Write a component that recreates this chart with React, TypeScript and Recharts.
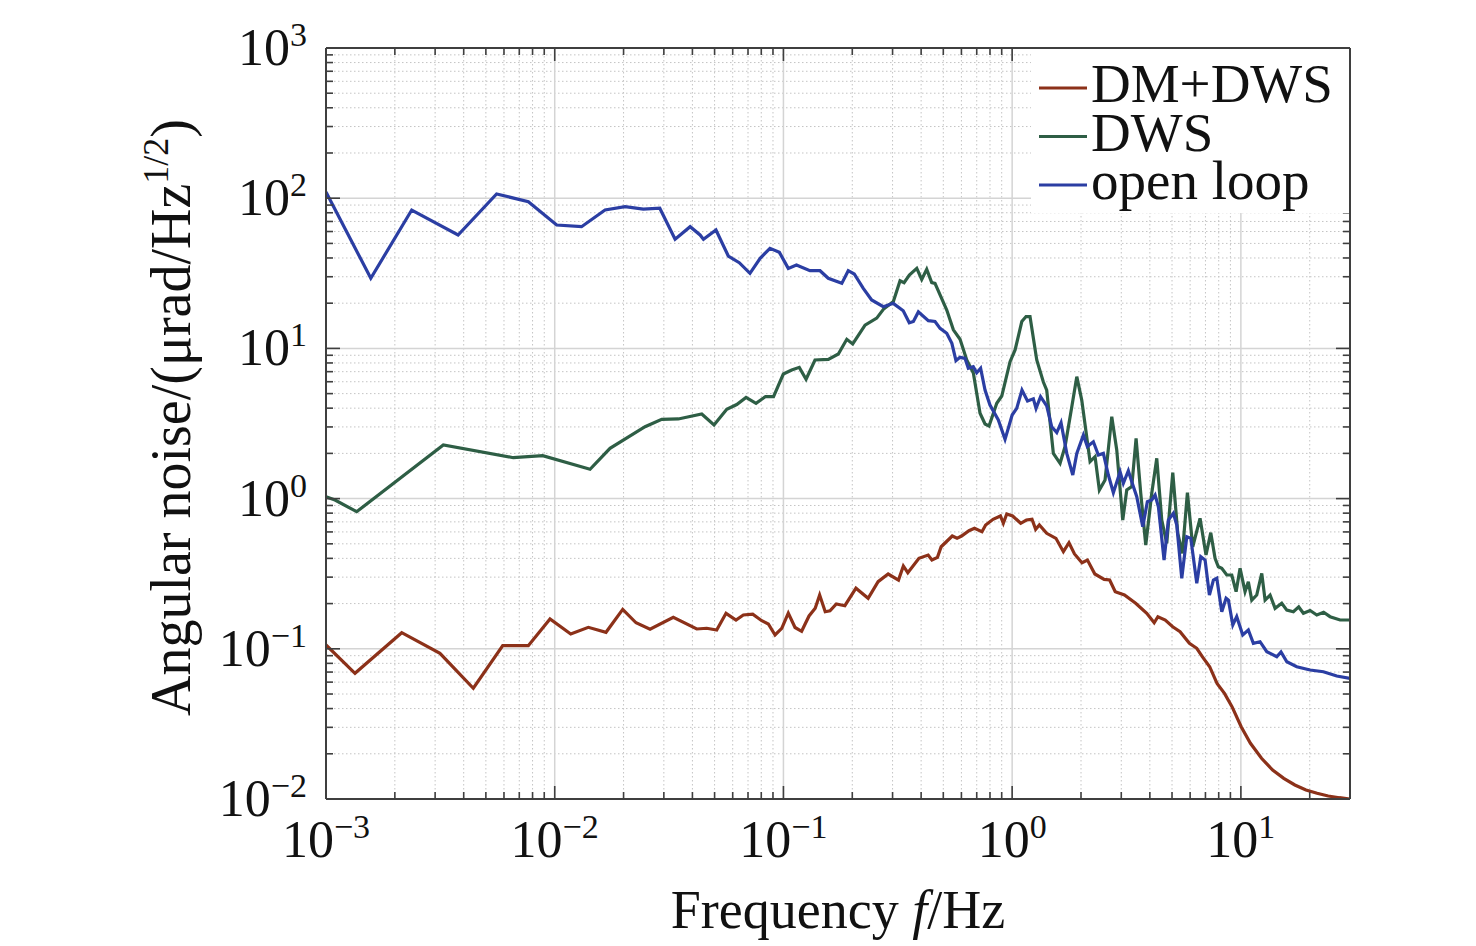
import React from "react";
import { LineChart, Line, XAxis, YAxis, CartesianGrid } from "recharts";

// ---------- data (frequency in Hz, angular noise in µrad/Hz^1/2) ----------
const dmDwsData: [number, number][] = [
  [0.001, 0.106], [0.001339, 0.0687], [0.002143, 0.128], [0.00315, 0.0933], [0.004406, 0.0546],
  [0.005925, 0.1049], [0.007665, 0.1049], [0.009537, 0.158], [0.01175, 0.1254], [0.01403, 0.139],
  [0.01676, 0.1288], [0.01983, 0.183], [0.02267, 0.149], [0.02611, 0.1349], [0.033, 0.162],
  [0.04178, 0.1355], [0.04619, 0.137], [0.05108, 0.1334], [0.05611, 0.1723], [0.06203, 0.1555],
  [0.06679, 0.168], [0.07341, 0.17], [0.08038, 0.1539], [0.0859, 0.1463], [0.09191, 0.1236],
  [0.09831, 0.137], [0.105, 0.173], [0.1124, 0.1386], [0.1201, 0.1308], [0.1294, 0.1654],
  [0.1377, 0.186], [0.144, 0.228], [0.1523, 0.1766], [0.1598, 0.179], [0.1703, 0.1987],
  [0.1856, 0.1936], [0.2075, 0.253], [0.2346, 0.217], [0.2594, 0.2797], [0.287, 0.3148],
  [0.3185, 0.287], [0.3344, 0.356], [0.3498, 0.321], [0.3913, 0.4], [0.4292, 0.421],
  [0.4459, 0.39], [0.4714, 0.4065], [0.4893, 0.478], [0.5472, 0.5636], [0.5742, 0.544],
  [0.6008, 0.5636], [0.6474, 0.611], [0.6843, 0.634], [0.7379, 0.602], [0.7657, 0.667],
  [0.8251, 0.728], [0.8889, 0.766], [0.915, 0.685], [0.9471, 0.79], [1.005, 0.766],
  [1.09, 0.685], [1.154, 0.72], [1.221, 0.728], [1.267, 0.624], [1.315, 0.667],
  [1.416, 0.587], [1.554, 0.544], [1.675, 0.443], [1.772, 0.5085], [1.873, 0.428],
  [2.02, 0.3743], [2.134, 0.39], [2.299, 0.3148], [2.525, 0.29], [2.669, 0.287],
  [2.823, 0.24], [3.097, 0.228], [3.467, 0.201], [3.877, 0.1723], [4.178, 0.149],
  [4.337, 0.1636], [4.671, 0.1555], [5.034, 0.1403], [5.422, 0.13], [5.955, 0.1088],
  [6.415, 0.1008], [6.781, 0.0886], [7.305, 0.076], [7.866, 0.0589], [8.478, 0.0505],
  [9.145, 0.0412], [10.03, 0.0303], [11.01, 0.02349], [12.31, 0.01866], [13.77, 0.0156],
  [15.4, 0.01373], [17.22, 0.0124], [19.26, 0.01148], [21.54, 0.01092], [24.08, 0.01047],
  [26.96, 0.0102], [30, 0.01],
];

const dwsData: [number, number][] = [
  [0.001, 1.03], [0.001095, 0.979], [0.001362, 0.818], [0.003258, 2.275], [0.00659, 1.872],
  [0.00886, 1.93], [0.01427, 1.567], [0.01745, 2.162], [0.02483, 3.01], [0.02937, 3.37],
  [0.0347, 3.39], [0.04394, 3.66], [0.04971, 3.09], [0.05651, 3.93], [0.06249, 4.23],
  [0.06863, 4.72], [0.07589, 4.31], [0.08352, 4.78], [0.09051, 4.78], [0.0999, 6.75],
  [0.1087, 7.18], [0.1173, 7.48], [0.1256, 6.23], [0.1374, 8.37], [0.1571, 8.46],
  [0.1738, 9.18], [0.1892, 11.5], [0.2009, 10.7], [0.2274, 14.3], [0.2558, 15.9],
  [0.2735, 18.2], [0.3024, 20.5], [0.3235, 28.2], [0.3368, 27.4], [0.3552, 30.8],
  [0.3828, 34.1], [0.4024, 28.8], [0.4231, 33.6], [0.445, 27.4], [0.46, 27.1],
  [0.5177, 18.0], [0.5533, 13.3], [0.5918, 11.5], [0.6331, 8.37], [0.6766, 6.86],
  [0.7237, 3.7], [0.7612, 3.14], [0.7925, 3.04], [0.8564, 4.31], [0.9006, 4.82],
  [0.979, 8.16], [1.03, 9.76], [1.102, 15.1], [1.15, 16.3], [1.197, 16.3],
  [1.281, 8.37], [1.369, 5.97], [1.416, 5.28], [1.514, 2.0], [1.62, 1.718],
  [1.703, 2.22], [1.823, 4.09], [1.917, 6.48], [2.015, 4.53], [2.191, 1.761],
  [2.304, 1.901], [2.406, 1.141], [2.548, 1.33], [2.726, 3.51], [2.866, 2.11],
  [3.045, 0.72], [3.17, 1.141], [3.334, 1.2], [3.482, 2.52], [3.65, 1.085],
  [3.838, 0.491], [4.077, 1.085], [4.288, 1.855], [4.509, 0.72], [4.742, 0.504],
  [5.038, 1.487], [5.298, 0.587], [5.55, 0.432], [5.838, 1.095], [6.16, 0.478],
  [6.63, 0.739], [7.04, 0.421], [7.385, 0.593], [7.712, 0.4], [7.97, 0.352],
  [8.25, 0.3435], [8.677, 0.31], [9.125, 0.31], [9.53, 0.24], [9.92, 0.3435],
  [10.43, 0.24], [10.78, 0.2797], [11.16, 0.211], [11.73, 0.228], [12.34, 0.318],
  [12.76, 0.211], [13.42, 0.228], [14.11, 0.186], [15.09, 0.201], [15.88, 0.181],
  [16.97, 0.1766], [17.9, 0.19], [18.77, 0.1723], [20.07, 0.18], [21.48, 0.168],
  [23.0, 0.175], [24.55, 0.1636], [27.15, 0.1555], [30, 0.1555],
];

const openLoopData: [number, number][] = [
  [0.001, 110], [0.00157, 29.3], [0.00237, 83.4], [0.00378, 56.9], [0.00557, 106.7],
  [0.00767, 94.8], [0.0102, 66.3], [0.0131, 64.6], [0.0166, 83.4], [0.0203, 87.8],
  [0.0244, 84.7], [0.0288, 85.7], [0.0336, 53.3], [0.0391, 64.6], [0.0432, 56.9],
  [0.0447, 53.3], [0.0507, 61.4], [0.0574, 41.2], [0.0641, 37.2], [0.0714, 31.6],
  [0.0791, 39.8], [0.0873, 46.4], [0.096, 43.6], [0.105, 34.1], [0.114, 35.9],
  [0.1306, 32.9], [0.1445, 32.9], [0.157, 29.3], [0.18, 27.1], [0.192, 32.9],
  [0.204, 31.3], [0.2234, 25.1], [0.243, 21.0], [0.2735, 18.95], [0.302, 19.95],
  [0.334, 17.8], [0.355, 14.8], [0.37, 15.1], [0.389, 17.5], [0.43, 15.3],
  [0.46, 15.1], [0.484, 13.6], [0.5176, 12.6], [0.545, 10.8], [0.568, 8.28],
  [0.5916, 8.72], [0.622, 8.59], [0.643, 7.37], [0.676, 7.55], [0.7, 6.89],
  [0.728, 7.37], [0.761, 5.28], [0.8, 4.2], [0.87, 3.34], [0.931, 2.48],
  [1.0, 3.6], [1.047, 3.99], [1.104, 5.28], [1.167, 4.47], [1.238, 4.62],
  [1.272, 3.99], [1.331, 4.77], [1.416, 4.14], [1.489, 3.01], [1.567, 2.75],
  [1.636, 3.2], [1.733, 2.0], [1.841, 1.436], [1.917, 2.0], [2.048, 2.65],
  [2.132, 2.22], [2.265, 2.39], [2.382, 1.95], [2.505, 2.0], [2.634, 1.436],
  [2.77, 1.095], [2.964, 1.51], [3.063, 1.265], [3.221, 1.534], [3.334, 1.296],
  [3.506, 1.03], [3.724, 0.65], [3.901, 0.954], [4.077, 0.979], [4.217, 1.057],
  [4.359, 0.883], [4.615, 0.39], [4.819, 0.72], [5.068, 0.798], [5.245, 0.667],
  [5.515, 0.2947], [5.8, 0.5575], [6.04, 0.544], [6.415, 0.273], [6.68, 0.41],
  [6.976, 0.39], [7.285, 0.228], [7.585, 0.287], [7.846, 0.2947], [8.25, 0.1766],
  [8.617, 0.217], [8.82, 0.211], [9.22, 0.144], [9.59, 0.1636], [10.19, 0.1236],
  [10.78, 0.1334], [11.34, 0.1088], [12.13, 0.1115], [12.98, 0.0957], [14.35, 0.0886],
  [14.98, 0.0953], [15.88, 0.082], [17.55, 0.076], [20.07, 0.0722], [22.95, 0.0704],
  [26.26, 0.0659], [30, 0.0636],
];

// ---------- axes ----------
const xMajorTicks = [0.001, 0.01, 0.1, 1, 10];
const xMinorTicks = [
  0.002, 0.003, 0.004, 0.005, 0.006, 0.007, 0.008, 0.009,
  0.02, 0.03, 0.04, 0.05, 0.06, 0.07, 0.08, 0.09,
  0.2, 0.3, 0.4, 0.5, 0.6, 0.7, 0.8, 0.9,
  2, 3, 4, 5, 6, 7, 8, 9,
  20, 30,
];
const yMajorTicks = [0.01, 0.1, 1, 10, 100, 1000];
const yMinorTicks = [
  0.02, 0.03, 0.04, 0.05, 0.06, 0.07, 0.08, 0.09,
  0.2, 0.3, 0.4, 0.5, 0.6, 0.7, 0.8, 0.9,
  2, 3, 4, 5, 6, 7, 8, 9,
  20, 30, 40, 50, 60, 70, 80, 90,
  200, 300, 400, 500, 600, 700, 800, 900,
];
const xAllTicks = [...xMajorTicks, ...xMinorTicks].sort((a, b) => a - b);
const yAllTicks = [...yMajorTicks, ...yMinorTicks].sort((a, b) => a - b);

const series = [
  { name: "DM+DWS", data: dmDwsData, color: "#8c3119" },
  { name: "DWS", data: dwsData, color: "#2e5e45" },
  { name: "open loop", data: openLoopData, color: "#2b3ea3" },
];

const FONT = "'Liberation Serif', 'Times New Roman', 'DejaVu Serif', serif";
const AXIS = "#3f3f3f";

const toRows = (d: [number, number][]) => d.map(([f, v]) => ({ f, v }));

const isMajor = (v: number) => {
  const l = Math.log10(v);
  return Math.abs(l - Math.round(l)) < 1e-6;
};
const expText = (v: number) => {
  const e = Math.round(Math.log10(v));
  return e < 0 ? "\u2212" + String(-e) : String(e);
};

const BottomTick = (props: any) => {
  const { x, y, payload } = props;
  const major = isMajor(payload.value);
  return (
    <g>
      <line x1={x} x2={x} y1={y} y2={y - (major ? 13 : 7)} stroke={AXIS} strokeWidth={1.6} />
      {major && (
        <text x={x} y={y + 58} textAnchor="middle" fontFamily={FONT} fontSize={52} fill="#111">
          <tspan>10</tspan>
          <tspan dy={-19} fontSize={34}>{expText(payload.value)}</tspan>
        </text>
      )}
    </g>
  );
};

const TopTick = (props: any) => {
  const { x, y, payload } = props;
  const major = isMajor(payload.value);
  return <line x1={x} x2={x} y1={y} y2={y + (major ? 13 : 7)} stroke={AXIS} strokeWidth={1.6} />;
};

const LeftTick = (props: any) => {
  const { x, y, payload } = props;
  const major = isMajor(payload.value);
  return (
    <g>
      <line x1={x} x2={x + (major ? 14 : 7)} y1={y} y2={y} stroke={AXIS} strokeWidth={1.6} />
      {major && (
        <text x={x - 19} y={y + 17} textAnchor="end" fontFamily={FONT} fontSize={52} fill="#111">
          <tspan>10</tspan>
          <tspan dy={-19} fontSize={34}>{expText(payload.value)}</tspan>
        </text>
      )}
    </g>
  );
};

const RightTick = (props: any) => {
  const { x, y, payload } = props;
  const major = isMajor(payload.value);
  return <line x1={x} x2={x - (major ? 14 : 7)} y1={y} y2={y} stroke={AXIS} strokeWidth={1.6} />;
};

const YTitle = (props: any) => {
  const vb = props.viewBox || { x: 325, y: 48, width: 1, height: 751 };
  const cx = vb.x + vb.width - 136;
  const cy = vb.y + vb.height / 2 - 6;
  return (
    <text
      x={cx}
      y={cy}
      transform={`rotate(-90, ${cx}, ${cy})`}
      textAnchor="middle"
      fontFamily={FONT}
      fontSize={56}
      fill="#111"
    >
      <tspan>Angular noise/(μrad/Hz</tspan>
      <tspan dy={-22} fontSize={36}>1/2</tspan>
      <tspan dy={22}>)</tspan>
    </text>
  );
};

const XTitle = (props: any) => {
  const vb = props.viewBox || { x: 326, y: 799, width: 1024, height: 1 };
  const cx = vb.x + vb.width / 2;
  const cy = vb.y + 129;
  return (
    <text x={cx} y={cy} textAnchor="middle" fontFamily={FONT} fontSize={54} fill="#111">
      <tspan>Frequency </tspan>
      <tspan fontStyle="italic">f</tspan>
      <tspan>/Hz</tspan>
    </text>
  );
};

export default function App() {
  return (
    <div style={{ position: "absolute", left: 0, top: 0, width: 1476, height: 946, background: "#fff" }}>
      <LineChart
        width={1476}
        height={946}
        margin={{ top: 47, right: 125, bottom: 146, left: 325 }}
      >
        <CartesianGrid
          verticalValues={xMinorTicks}
          horizontalValues={yMinorTicks}
          stroke="#c4c4c4"
          strokeWidth={1}
          strokeDasharray="1.5 2.5"
        />
        <CartesianGrid
          verticalValues={xMajorTicks}
          horizontalValues={yMajorTicks}
          stroke="#d4d4d4"
          strokeWidth={1.5}
        />
        <XAxis
          dataKey="f"
          type="number"
          scale="log"
          domain={[0.001, 30]}
          allowDataOverflow
          ticks={xAllTicks}
          interval={0}
          height={1}
          tickSize={0}
          tickMargin={0}
          tickLine={false}
          tick={<BottomTick />}
          axisLine={{ stroke: AXIS, strokeWidth: 2 }}
          label={{ content: <XTitle /> }}
        />
        <XAxis
          xAxisId="top"
          orientation="top"
          dataKey="f"
          type="number"
          scale="log"
          domain={[0.001, 30]}
          allowDataOverflow
          ticks={xAllTicks}
          interval={0}
          height={1}
          tickSize={0}
          tickMargin={0}
          tickLine={false}
          tick={<TopTick />}
          axisLine={{ stroke: AXIS, strokeWidth: 2 }}
        />
        <YAxis
          type="number"
          scale="log"
          domain={[0.01, 1000]}
          allowDataOverflow
          ticks={yAllTicks}
          interval={0}
          width={1}
          tickSize={0}
          tickMargin={0}
          tickLine={false}
          tick={<LeftTick />}
          axisLine={{ stroke: AXIS, strokeWidth: 2 }}
          label={{ content: <YTitle /> }}
        />
        <YAxis
          yAxisId="right"
          orientation="right"
          type="number"
          scale="log"
          domain={[0.01, 1000]}
          allowDataOverflow
          ticks={yAllTicks}
          interval={0}
          width={1}
          tickSize={0}
          tickMargin={0}
          tickLine={false}
          tick={<RightTick />}
          axisLine={{ stroke: AXIS, strokeWidth: 2 }}
        />
        {series.map((s) => (
          <Line
            key={s.name}
            name={s.name}
            data={toRows(s.data)}
            dataKey="v"
            type="linear"
            stroke={s.color}
            strokeWidth={3.2}
            dot={false}
            activeDot={false}
            isAnimationActive={false}
          />
        ))}
      </LineChart>
      <svg
        width={320}
        height={166}
        style={{ position: "absolute", left: 1031, top: 49 }}
      >
        <rect x={0} y={0} width={318} height={164} fill="#fff" />
        {series.map((s, i) => (
          <g key={s.name}>
            <line x1={8} x2={56} y1={39 + i * 48.5} y2={39 + i * 48.5} stroke={s.color} strokeWidth={3} />
            <text x={60} y={53 + i * 48.5} fontFamily={FONT} fontSize={55} fill="#111">
              {s.name}
            </text>
          </g>
        ))}
      </svg>
    </div>
  );
}
